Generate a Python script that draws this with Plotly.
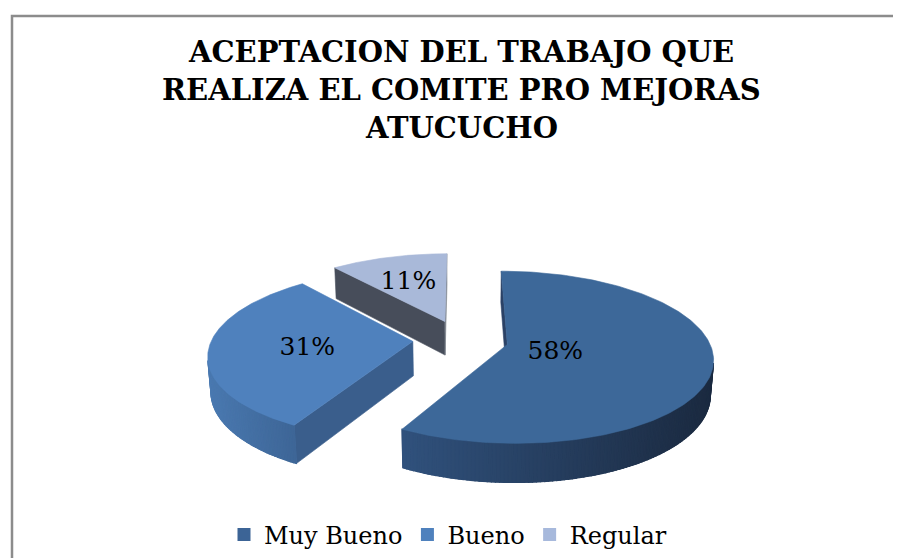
import numpy as np
import plotly.graph_objects as go

# ---------------- data ----------------
CATEGORIES = ["Muy Bueno", "Bueno", "Regular"]
PERCENTS = [58, 31, 11]
TITLE_LINES = ["ACEPTACION DEL TRABAJO QUE", "REALIZA EL COMITE PRO MEJORAS", "ATUCUCHO"]

# ---------------- style ----------------
TOP_COLORS = ["#3d6899", "#4f81bd", "#a9b9d9"]
LEGEND_COLORS = ["#3c6496", "#4f81bd", "#a7b9dc"]
WALL_COLORS = [("#30517c", "#1b2a40"), ("#4a79b0", "#3e6697"), ("#9aa9c8", "#8a98b5")]
CUT_COLORS = [("#2b4266", "#2b4266"), ("#3a5e8c", "#3a5e8c"), ("#474d5a", "#80868f")]
LABEL_R = [0.24, 0.52, 0.62]
SERIF = "DejaVu Serif"
TITLE_LINE_Y = [52, 90, 128]   # pixel centres of the title lines

# page offset (body margin) and figure size
OFF = 8
FIG_W, FIG_H = 901 - OFF, 558 - OFF

# projection (pixels)
S = 201.0          # px per radius
ALPHA = np.radians(24.3)
DIST = 6.17        # camera distance in radii
CX, CY = 460.6, 339.5
EXPLODE = 0.238
HEIGHT = 0.19
CA, SA = np.cos(ALPHA), np.sin(ALPHA)
CAM = np.array([0.0, DIST * SA, DIST * CA])


def project(X, Y, Z):
    X = np.asarray(X, float); Y = np.asarray(Y, float); Z = np.asarray(Z, float)
    yc = Y * CA - Z * SA
    zc = -Y * SA - Z * CA + DIST
    f = DIST / zc
    return CX + S * X * f, CY - S * yc * f


def hex2rgb(h):
    h = h.lstrip("#")
    return np.array([int(h[i:i + 2], 16) for i in (0, 2, 4)], float)


def mix(c1, c2, t):
    c = hex2rgb(c1) * (1 - t) + hex2rgb(c2) * t
    return "rgb(%d,%d,%d)" % tuple(np.round(c).astype(int))


def poly(xs, ys, color, lw=0.6):
    xs = list(xs) + [xs[0]]
    ys = list(ys) + [ys[0]]
    return go.Scatter(x=xs, y=ys, mode="lines", fill="toself", fillcolor=color,
                      line=dict(color=color, width=lw), hoverinfo="skip",
                      showlegend=False)


def px_x(p):
    return (p - OFF) / FIG_W


def px_y(p):
    return 1 - (p - OFF) / FIG_H


fig = go.Figure()

vals = np.array(PERCENTS, float)
fr = vals / vals.sum()
ends = np.cumsum(fr) * 2 * np.pi
starts = ends - fr * 2 * np.pi
mids = (starts + ends) / 2
offx = EXPLODE * np.sin(mids)
offz = -EXPLODE * np.cos(mids)

order = np.argsort(offz)  # back to front
label_traces = []
for i in order:
    t1, t2 = starts[i], ends[i]
    ox, oz = offx[i], offz[i]
    # cut faces
    for side, th in enumerate((t1, t2)):
        phi = th - np.pi / 2 if side == 0 else th + np.pi / 2
        n = np.array([np.sin(phi), 0.0, -np.cos(phi)])
        apex = np.array([ox, 0.0, oz])
        if np.dot(CAM - apex, n) > 0:
            rx, rz = ox + np.sin(th), oz - np.cos(th)
            X = [ox, rx, rx, ox]
            Y = [0, 0, -HEIGHT, -HEIGHT]
            Z = [oz, rz, rz, oz]
            sx, sy = project(X, Y, Z)
            fig.add_trace(poly(sx, sy, CUT_COLORS[i][side]))
    # outer wall segments
    nseg = max(4, int(np.degrees(t2 - t1)))
    th = np.linspace(t1, t2, nseg + 1)
    segs = []
    vis = []
    for a, b in zip(th[:-1], th[1:]):
        m = (a + b) / 2
        P = np.array([ox + np.sin(m), 0.0, oz - np.cos(m)])
        r = np.array([np.sin(m), 0.0, -np.cos(m)])
        if np.dot(CAM - P, r) > 0:
            X = [ox + np.sin(a), ox + np.sin(b), ox + np.sin(b), ox + np.sin(a)]
            Z = [oz - np.cos(a), oz - np.cos(b), oz - np.cos(b), oz - np.cos(a)]
            Y = [0, 0, -HEIGHT, -HEIGHT]
            sx, sy = project(X, Y, Z)
            segs.append((sx, sy))
            vis.append((a, b))
    if segs:
        a0, b0 = vis[0][0], vis[-1][1]
        tw = np.linspace(a0, b0, 120)
        Xw = np.concatenate([ox + np.sin(tw), ox + np.sin(tw[::-1])])
        Zw = np.concatenate([oz - np.cos(tw), oz - np.cos(tw[::-1])])
        Yw = np.concatenate([np.zeros_like(tw), -HEIGHT * np.ones_like(tw)])
        sx, sy = project(Xw, Yw, Zw)
        fig.add_trace(poly(sx, sy, mix(WALL_COLORS[i][0], WALL_COLORS[i][1], 0.5)))
        xm = [np.mean(s[0]) for s in segs]
        lo, hi = min(xm), max(xm)
        for (sx, sy), x in zip(segs, xm):
            t = 0 if hi == lo else (x - lo) / (hi - lo)
            fig.add_trace(poly(sx, sy, mix(WALL_COLORS[i][0], WALL_COLORS[i][1], t), lw=1.2))
    # top face
    th = np.linspace(t1, t2, 200)
    X = np.concatenate([[ox], ox + np.sin(th)])
    Z = np.concatenate([[oz], oz - np.cos(th)])
    Y = np.zeros_like(X)
    sx, sy = project(X, Y, Z)
    fig.add_trace(poly(sx, sy, TOP_COLORS[i]))
    lr = LABEL_R[i]
    lx, ly = project([ox + lr * np.sin(mids[i])], [0], [oz - lr * np.cos(mids[i])])
    label_traces.append(go.Scatter(x=lx, y=ly + 3, mode="text", text=["%d%%" % PERCENTS[i]],
                                   textfont=dict(family=SERIF, size=25, color="#000000"),
                                   hoverinfo="skip", showlegend=False))

for tr in label_traces:
    fig.add_trace(tr)

for name, col in zip(CATEGORIES, LEGEND_COLORS):
    fig.add_trace(go.Scatter(x=[None], y=[None], mode="markers", name=name,
                             marker=dict(symbol="square", size=13, color=col)))

title_annotations = [
    dict(text="<b>%s</b>" % line, xref="x", yref="y", x=461, y=yy,
         xanchor="center", yanchor="middle", showarrow=False,
         font=dict(family=SERIF, size=29, color="#000000"))
    for line, yy in zip(TITLE_LINES, TITLE_LINE_Y)
]

fig.update_layout(
    width=FIG_W, height=FIG_H,
    margin=dict(l=0, r=0, t=0, b=0),
    paper_bgcolor="white", plot_bgcolor="white",
    xaxis=dict(range=[OFF, 901], visible=False, fixedrange=True),
    yaxis=dict(range=[558, OFF], visible=False, fixedrange=True),
    annotations=title_annotations,
    legend=dict(orientation="h", x=px_x(448), xanchor="center", y=px_y(535),
                yanchor="middle", font=dict(family=SERIF, size=24, color="#000000"),
                bgcolor="rgba(0,0,0,0)", itemwidth=30),
    shapes=[dict(type="rect", xref="x", yref="y", x0=12, y0=16, x1=920, y1=580,
                 line=dict(color="#8c8c8c", width=2.5), fillcolor="rgba(0,0,0,0)",
                 layer="below")],
    showlegend=True,
)

fig.write_html("out.html")
